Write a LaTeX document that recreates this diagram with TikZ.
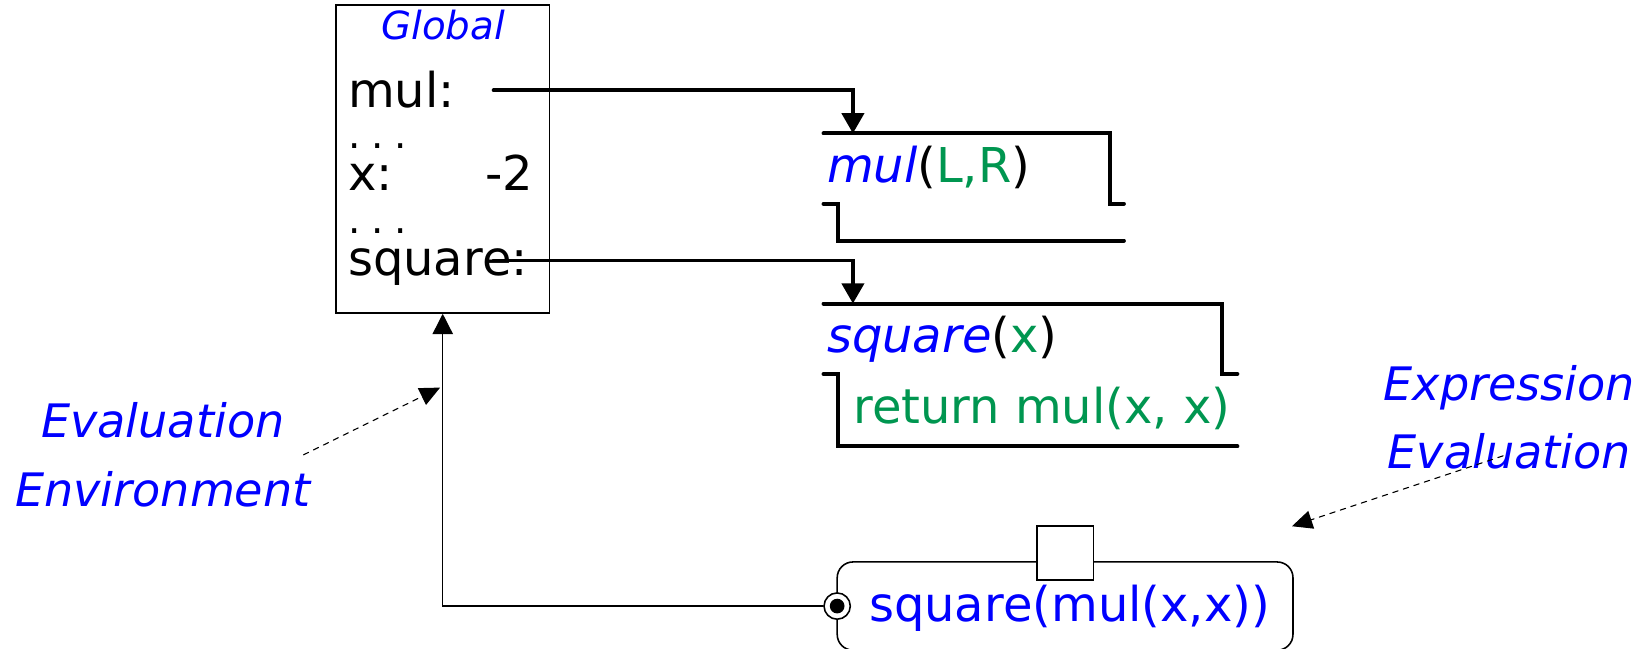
\documentclass[tikz,border=0pt]{standalone}
\usepackage{fontspec}
\setmainfont{DejaVu Sans}
\usetikzlibrary{arrows.meta}
\definecolor{fnblue}{RGB}{0,0,255}
\definecolor{fngreen}{RGB}{0,150,80}

\begin{document}
\begin{tikzpicture}[x=0.02cm,y=-0.02cm,line cap=round]
\tikzstyle{frame}=[draw,line width=0.85pt,inner sep=0pt]
\tikzstyle{txt}=[inner sep=0pt,anchor=base west,font=\fontsize{26}{30}\selectfont]
\tikzstyle{note}=[inner sep=0pt,align=center,text=fnblue,font=\itshape\fontsize{25}{37}\selectfont]
\tikzstyle{ptr}=[line width=2.15pt,-{Triangle[width=12pt,length=11pt]}]
\tikzstyle{bracket}=[line width=2.15pt]
\tikzstyle{link}=[line width=0.75pt,-{Triangle[width=11pt,length=11pt]}]
\tikzstyle{hint}=[dashed,line width=0.6pt,-{Triangle[width=10pt,length=11pt]}]
\path[use as bounding box,clip] (0,0) rectangle (1568,617);

% global frame
\node[frame,minimum width=4.06cm,minimum height=5.86cm](glob) at (421.5,151.5) {};
\node[txt,anchor=base,text=fnblue,font=\itshape\fontsize{21}{24}\selectfont](gname) at (422,38) {Global};
\node[txt](mulname) at (331,102) {mul:};
\node[txt,font=\fontsize{21}{24}\selectfont](dotsA) at (331,141) {.\kern0.28em.\kern0.28em.};
\node[txt](xname) at (331,181) {x:};
\node[txt,anchor=base east](xval) at (508,181) {-2};
\node[txt,font=\fontsize{21}{24}\selectfont](dotsB) at (331,222) {.\kern0.28em.\kern0.28em.};
\node[txt](sqname) at (331,262) {square:};

% mul function
\coordinate (mulptr) at (470,86);
\coordinate (mulfn) at (812,127);
\draw[ptr] (mulptr) -| (mulfn);
\draw[bracket] (784,127) -- (1057,127) -- (1057,194) -- (1070,194);
\draw[bracket] (784,194) -- (798,194) -- (798,229) -- (1070,229);
\node[txt](mulsig) at (787,174) {\textcolor{fnblue}{\itshape mul}(\textcolor{fngreen}{L,R})};

% square function
\coordinate (sqptr) at (470,248);
\coordinate (sqfn) at (812,289);
\draw[ptr] (sqptr) -| (sqfn);
\draw[bracket] (784,289) -- (1163,289) -- (1163,356) -- (1178,356);
\draw[bracket] (784,356) -- (798,356) -- (798,425) -- (1178,425);
\node[txt](sqsig) at (787,336) {\textcolor{fnblue}{\itshape square}(\textcolor{fngreen}{x})};
\node[txt,text=fngreen](sqbody) at (812,403) {return mul(x, x)};

% expression being evaluated
\node[frame,rounded corners=0.3cm,minimum width=8.68cm,minimum height=1.68cm](expr) at (1014,577) {};
\node[frame,fill=white,minimum width=1.08cm,minimum height=1.02cm](hole) at (1014,526.5) {};
\node[txt,text=fnblue](exprtxt) at (827,592) {square(mul(x,x))};
\node[circle,draw,line width=0.85pt,fill=white,minimum size=0.5cm,inner sep=0pt](env) at (797,577) {};
\fill (env.center) circle (0.14cm);
\draw[link] (env.west) -| (glob.south);

% notes
\node[note](envnote) at (155,433) {Evaluation\\Environment};
\coordinate (envtail) at (289,433);
\coordinate (envtip) at (419,369);
\draw[hint] (envtail) -- (envtip);
\node[note](exprnote) at (1437,397) {Expression\\Evaluation};
\coordinate (exprtail) at (1431,434);
\coordinate (exprtip) at (1230,501);
\draw[hint] (exprtail) -- (exprtip);
\end{tikzpicture}
\end{document}
